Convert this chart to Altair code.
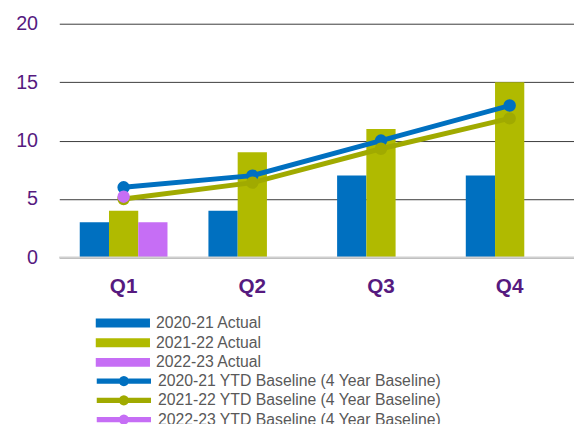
import math
import altair as alt
import pandas as pd

quarters = ["Q1", "Q2", "Q3", "Q4"]
bar_series = ["2020-21 Actual", "2021-22 Actual", "2022-23 Actual"]
bar_values = {
    "2020-21 Actual": [3, 4, 7, 7],
    "2021-22 Actual": [4, 9, 11, 15],
    "2022-23 Actual": [3, None, None, None],
}
line_series = [
    "2020-21 YTD Baseline (4 Year Baseline)",
    "2021-22 YTD Baseline (4 Year Baseline)",
    "2022-23 YTD Baseline (4 Year Baseline)",
]
line_values = {
    line_series[0]: [6, 7, 10, 13],
    line_series[1]: [5, 6.4, 9.3, 11.9],
    line_series[2]: [5.2, None, None, None],
}
bar_colors = ["#0070C0", "#B0BA00", "#C66EF5"]
line_colors = ["#0070C0", "#A0AA00", "#C66EF5"]

bar_rows = []
for s in bar_series:
    for q, v in zip(quarters, bar_values[s]):
        bar_rows.append({"quarter": q, "series": s, "value": v})
bars_df = pd.DataFrame(bar_rows)

line_rows = []
for i, s in enumerate(line_series):
    for q, v in zip(quarters, line_values[s]):
        if v is not None:
            line_rows.append({"quarter": q, "series": s, "value": v, "order": i})
lines_df = pd.DataFrame(line_rows)

purple = "#561A7F"

x_enc = alt.X(
    "quarter:N",
    sort=quarters,
    scale=alt.Scale(paddingInner=0, paddingOuter=0),
    axis=alt.Axis(
        title=None, labelAngle=0, ticks=False, domain=False,
        labelFont="Liberation Sans", labelFontSize=21, labelFontWeight="bold",
        labelColor=purple, labelPadding=19,
    ),
)
y_scale = alt.Scale(domain=[0, 20])
y_axis = alt.Axis(
    title=None, values=[0, 5, 10, 15, 20], ticks=False, domain=False,
    labelFont="Liberation Sans", labelFontSize=20, labelColor=purple,
    labelPadding=22, gridColor="#3a3a3a", gridWidth=1,
)

# legend symbol shapes (unit = 8.5 px for symbolSize 289)
sym_size = 289
px = 1 / 8.5
bar_path = "M-1,-0.53H5.47V0.53H-1Z"
parts = []
for dy in [-2, -1, 0, 1, 2]:
    parts.append(f"M-1,{dy*px:.4f}H5.47")
cx = (-1 + 5.47) / 2
for rp in [0.5, 1.5, 2.5, 3.5, 4.5]:
    r = rp * px
    pts = [(cx + r * math.cos(2 * math.pi * k / 16), r * math.sin(2 * math.pi * k / 16)) for k in range(16)]
    parts.append("M" + "L".join(f"{a:.4f},{b:.4f}" for a, b in pts) + "Z")
line_path = "".join(parts)

bars = alt.Chart(bars_df).mark_bar().encode(
    x=x_enc,
    xOffset=alt.XOffset("series:N", sort=bar_series,
                        scale=alt.Scale(paddingInner=0, paddingOuter=0.7)),
    y=alt.Y("value:Q", scale=y_scale, axis=y_axis),
    fill=alt.Fill(
        "series:N",
        scale=alt.Scale(domain=bar_series, range=bar_colors),
        legend=alt.Legend(
            title=None, orient="none", legendX=37, legendY=295,
            symbolType=bar_path, symbolSize=sym_size, symbolStrokeWidth=0,
            labelFont="Liberation Sans", labelFontSize=16, labelColor="#595959",
            labelOffset=44, rowPadding=3, padding=0, symbolOpacity=1,
            labelLimit=400,
        ),
    ),
)

zero_line = alt.Chart(pd.DataFrame({"v": [0]})).mark_rule(color="#d0d0d0", strokeWidth=2).encode(
    y=alt.Y("v:Q", scale=y_scale)
)

line_legend = alt.Legend(
    title=None, orient="none", legendX=37, legendY=353,
    symbolType=line_path, symbolSize=sym_size, symbolStrokeWidth=1.3,
    labelFont="Liberation Sans", labelFontSize=16, labelColor="#595959",
    labelOffset=44, rowPadding=1.5, padding=0, labelLimit=400,
)

lines = alt.Chart(lines_df).mark_line(strokeWidth=5).encode(
    x=x_enc,
    y=alt.Y("value:Q", scale=y_scale),
    stroke=alt.Stroke("series:N", scale=alt.Scale(domain=line_series, range=line_colors),
                      legend=line_legend),
    order="order:Q",
)

points = alt.Chart(lines_df).mark_circle(size=160, opacity=1).encode(
    x=x_enc,
    y=alt.Y("value:Q", scale=y_scale),
    color=alt.Color("series:N", scale=alt.Scale(domain=line_series, range=line_colors),
                    legend=None),
    order="order:Q",
)

chart = alt.layer(bars, zero_line, lines, points).resolve_scale(
    color="independent"
).properties(
    width=522, height=237,
    autosize=alt.AutoSizeParams(type="none"),
    padding={"left": 52, "top": 13, "right": 0, "bottom": 166},
).configure_view(stroke=None).configure_axisY(gridColor="#3a3a3a")

chart.save("out.html", embed_options={"renderer": "svg", "actions": False})
